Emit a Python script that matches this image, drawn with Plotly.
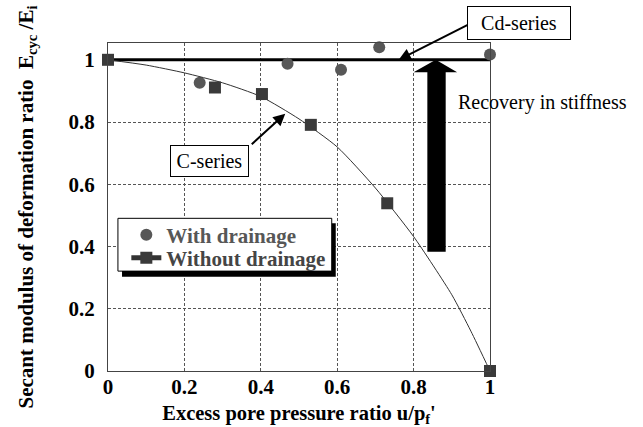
import plotly.graph_objects as go

# Secant modulus ratio measured with drainage (Cd-series)
drained_u = [0.24, 0.47, 0.61, 0.71, 1.0]
drained_E = [0.926, 0.987, 0.968, 1.040, 1.017]

# Secant modulus ratio measured without drainage (C-series)
undrained_u = [0.0, 0.28, 0.403, 0.531, 0.731, 1.0]
undrained_E = [1.0, 0.911, 0.890, 0.791, 0.539, 0.0]

# Trend curve drawn through the undrained results
trend_u = [0.0, 0.1, 0.2, 0.3, 0.4, 0.5, 0.6, 0.7, 0.8, 0.9, 0.95, 1.0]
trend_E = [1.0, 0.983, 0.958, 0.926, 0.882, 0.81, 0.72, 0.588, 0.432, 0.245, 0.128, 0.0]

# Level reached by the drained tests
cd_u = [0.0, 1.0]
cd_E = [1.0, 1.0]

tick_vals = [0, 0.2, 0.4, 0.6, 0.8, 1]
tick_text = ["0", "0.2", "0.4", "0.6", "0.8", "1"]

SERIF = "Liberation Serif"

fig = go.Figure()

fig.add_trace(go.Scatter(
    x=cd_u, y=cd_E, mode="lines",
    line=dict(color="black", width=3),
    showlegend=False, hoverinfo="skip", cliponaxis=False,
))

fig.add_trace(go.Scatter(
    x=drained_u, y=drained_E, mode="markers", name="With drainage",
    marker=dict(symbol="circle", size=12, color="#575757", line=dict(width=0)),
    cliponaxis=False, legend="legend",
))

# trend curve carries the legend entry (line + square key)
fig.add_trace(go.Scatter(
    x=trend_u, y=trend_E, mode="lines+markers", name="Without drainage",
    line=dict(color="#333333", width=1, shape="spline", smoothing=0.6),
    marker=dict(symbol="square", size=0.001, color="#3a3a3a", line=dict(width=0)),
    cliponaxis=False, legend="legend2",
))

fig.add_trace(go.Scatter(
    x=undrained_u, y=undrained_E, mode="markers", name="Without drainage",
    marker=dict(symbol="square", size=12, color="#3a3a3a", line=dict(width=0)),
    showlegend=False, cliponaxis=False,
))

# block arrow marking the recovery in stiffness
fig.add_shape(
    type="path", xref="x", yref="y",
    path="M 0.836 0.383 L 0.836 0.960 L 0.800 0.960 L 0.858 1.0 "
         "L 0.914 0.960 L 0.884 0.960 L 0.884 0.383 Z",
    fillcolor="black", line=dict(width=0), layer="above",
)

# legend frame with its drop shadow
fig.add_shape(
    type="rect", xref="paper", yref="paper",
    x0=0.0367, x1=0.5962, y0=0.2877, y1=0.4502,
    fillcolor="black", line=dict(width=0), layer="above",
)
fig.add_shape(
    type="rect", xref="paper", yref="paper",
    x0=0.026, x1=0.5857, y0=0.3045, y1=0.4655,
    fillcolor="white", line=dict(color="black", width=1), layer="above",
)

ann_font = dict(family=SERIF, size=20, color="black")

# Cd-series label and pointer
fig.add_annotation(
    x=0.761, y=1.0, xref="x", yref="y", ax=71, ay=-36,
    text="", showarrow=True, arrowhead=2, arrowsize=1.2, arrowwidth=2,
    arrowcolor="black",
)
fig.add_annotation(
    x=1.077, y=1.061, xref="paper", yref="paper", text="Cd-series",
    showarrow=False, font=ann_font, bgcolor="white", bordercolor="black",
    borderwidth=1, width=100, height=30, borderpad=1,
    xanchor="center", yanchor="middle",
)

# C-series label and pointer
fig.add_annotation(
    x=0.464, y=0.827, xref="x", yref="y", ax=-35, ay=32,
    text="", showarrow=True, arrowhead=2, arrowsize=1.2, arrowwidth=2,
    arrowcolor="black",
)
fig.add_annotation(
    x=(210 - 108.3) / 381.4, y=(370.7 - 160.8) / 327.4, xref="paper", yref="paper",
    text="C-series", showarrow=False, font=ann_font, bgcolor="white",
    bordercolor="black", borderwidth=1, width=75, height=28, borderpad=1,
    xanchor="center", yanchor="middle",
)

fig.add_annotation(
    x=0.912, y=0.818, xref="paper", yref="paper", text="Recovery in stiffness",
    showarrow=False, font=ann_font, xanchor="left", yanchor="middle",
)

axis_common = dict(
    showline=True, mirror=True, linecolor="#444444", linewidth=1,
    showgrid=True, gridcolor="#555555", gridwidth=1, griddash="3px,2px",
    zeroline=False, ticks="", automargin=False,
    tickfont=dict(family=SERIF, size=21, color="black", weight="bold"),
    tickvals=tick_vals, ticktext=tick_text,
)

fig.update_xaxes(
    range=[0, 1], ticklabelstandoff=-3,
    title=dict(
        text="Excess pore pressure ratio u/p<sub>f</sub>'",
        font=dict(family=SERIF, size=20.5, color="black", weight="bold"),
        standoff=10,
    ),
    **axis_common,
)
fig.update_yaxes(
    range=[0, 1.054], ticklabelstandoff=8,
    title=dict(
        text="Secant modulus of deformation ratio  E<sub>cyc</sub> /E<sub>i</sub>",
        font=dict(family=SERIF, size=21, color="black", weight="bold"),
        standoff=29,
    ),
    **axis_common,
)

legend_common = dict(
    xanchor="left", yanchor="middle",
    bgcolor="rgba(0,0,0,0)", borderwidth=0, itemsizing="constant",
)

fig.update_layout(
    width=643, height=427,
    margin=dict(l=108, r=153, t=43, b=56, pad=0),
    paper_bgcolor="white", plot_bgcolor="white",
    showlegend=True,
    legend=dict(
        x=0.048, y=0.4145,
        font=dict(family=SERIF, size=21, color="#575757", weight="bold"),
        **legend_common,
    ),
    legend2=dict(
        x=0.048, y=0.344,
        font=dict(family=SERIF, size=21, color="#454545", weight="bold"),
        **legend_common,
    ),
)

fig.write_html("out.html")
